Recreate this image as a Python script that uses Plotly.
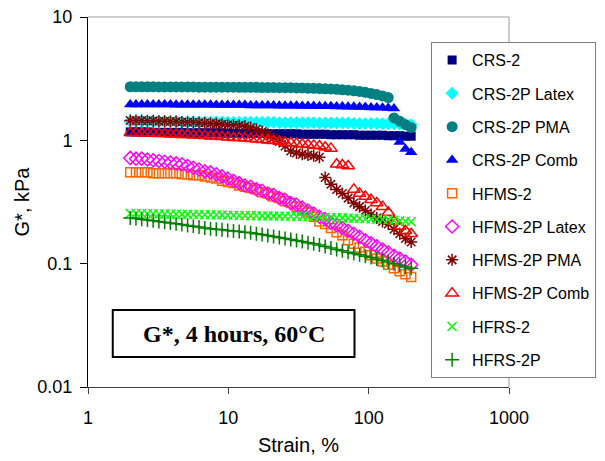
import plotly.graph_objects as go

strain = [2.000, 2.197, 2.414, 2.652, 2.914, 3.201, 3.517, 3.864, 4.245, 4.664,
          5.124, 5.629, 6.185, 6.795, 7.465, 8.201, 9.010, 9.899, 10.88, 11.95,
          13.13, 14.42, 15.84, 17.41, 19.12, 21.01, 23.08, 25.36, 27.86, 30.61,
          33.63, 36.95, 40.59, 44.59, 48.99, 53.83, 59.14, 64.97, 71.38, 78.42,
          86.15, 94.65, 104.0, 114.2, 125.5, 137.9, 151.5, 166.4, 182.9, 200.9]

crs2 = [1.17, 1.17, 1.17, 1.17, 1.16, 1.16, 1.16, 1.16, 1.16, 1.16,
        1.15, 1.15, 1.15, 1.15, 1.15, 1.15, 1.15, 1.14, 1.14, 1.14,
        1.14, 1.14, 1.14, 1.14, 1.13, 1.13, 1.13, 1.13, 1.13, 1.13,
        1.12, 1.12, 1.12, 1.12, 1.12, 1.11, 1.11, 1.11, 1.11, 1.11,
        1.10, 1.10, 1.10, 1.10, 1.10, 1.09, 1.09, 1.09, 1.08, 1.08]

crs2p_latex = [1.42, 1.42, 1.42, 1.42, 1.42, 1.42, 1.42, 1.42, 1.42, 1.41,
               1.41, 1.41, 1.41, 1.41, 1.41, 1.41, 1.41, 1.40, 1.40, 1.40,
               1.40, 1.40, 1.40, 1.40, 1.40, 1.40, 1.39, 1.39, 1.39, 1.39,
               1.39, 1.39, 1.39, 1.38, 1.38, 1.38, 1.38, 1.38, 1.38, 1.37,
               1.37, 1.37, 1.37, 1.37, 1.36, 1.36, 1.36, 1.35, 1.35, 1.34]

crs2p_pma = [2.72, 2.72, 2.72, 2.72, 2.72, 2.71, 2.71, 2.71, 2.71, 2.71,
             2.71, 2.71, 2.70, 2.70, 2.70, 2.70, 2.70, 2.70, 2.70, 2.69,
             2.69, 2.69, 2.69, 2.68, 2.68, 2.68, 2.67, 2.67, 2.67, 2.66,
             2.66, 2.65, 2.64, 2.63, 2.62, 2.61, 2.59, 2.57, 2.55, 2.52,
             2.49, 2.45, 2.40, 2.35, 2.29, 2.22, 1.52, 1.43, 1.34, 1.27]

crs2p_comb = [1.95, 1.95, 1.95, 1.95, 1.95, 1.95, 1.95, 1.95, 1.94, 1.94,
              1.94, 1.94, 1.94, 1.94, 1.94, 1.93, 1.93, 1.93, 1.93, 1.93,
              1.93, 1.92, 1.92, 1.92, 1.92, 1.92, 1.91, 1.91, 1.91, 1.91,
              1.90, 1.90, 1.90, 1.89, 1.89, 1.89, 1.88, 1.88, 1.87, 1.87,
              1.86, 1.86, 1.85, 1.85, 1.84, 1.83, 1.81, 0.97, 0.85, 0.80]

hfms2 = [0.55, 0.55, 0.55, 0.55, 0.54, 0.54, 0.54, 0.54, 0.54, 0.53,
         0.53, 0.52, 0.52, 0.51, 0.50, 0.49, 0.47, 0.46, 0.45, 0.43,
         0.42, 0.41, 0.40, 0.38, 0.37, 0.35, 0.34, 0.32, 0.31, 0.29,
         0.27, 0.26, 0.24, 0.22, 0.21, 0.195, 0.18, 0.17, 0.155, 0.145,
         0.135, 0.125, 0.117, 0.11, 0.104, 0.098, 0.092, 0.087, 0.082, 0.078]

hfms2p_latex = [0.72, 0.71, 0.71, 0.70, 0.69, 0.68, 0.67, 0.66, 0.65, 0.64,
                0.62, 0.60, 0.58, 0.56, 0.55, 0.53, 0.51, 0.49, 0.47, 0.45,
                0.43, 0.42, 0.40, 0.39, 0.37, 0.36, 0.34, 0.33, 0.31, 0.30,
                0.285, 0.27, 0.255, 0.24, 0.23, 0.215, 0.205, 0.195, 0.185, 0.175,
                0.165, 0.155, 0.146, 0.138, 0.13, 0.123, 0.116, 0.110, 0.104, 0.098]

hfms2p_pma = [1.45, 1.45, 1.45, 1.44, 1.44, 1.43, 1.43, 1.42, 1.42, 1.41,
              1.40, 1.40, 1.39, 1.38, 1.37, 1.36, 1.35, 1.34, 1.33, 1.32,
              1.30, 1.27, 1.23, 1.18, 1.12, 1.05, 0.98, 0.90, 0.82, 0.79,
              0.77, 0.76, 0.75, 0.73, 0.50, 0.44, 0.40, 0.37, 0.34, 0.31,
              0.29, 0.27, 0.25, 0.235, 0.22, 0.21, 0.19, 0.175, 0.16, 0.15]

hfms2p_comb = [1.15, 1.15, 1.14, 1.14, 1.14, 1.13, 1.13, 1.12, 1.12, 1.11,
               1.11, 1.10, 1.10, 1.09, 1.08, 1.08, 1.07, 1.06, 1.05, 1.05,
               1.04, 1.03, 1.02, 1.01, 1.00, 0.99, 0.98, 0.96, 0.95, 0.94,
               0.93, 0.92, 0.91, 0.90, 0.88, 0.86, 0.64, 0.63, 0.62, 0.40,
               0.37, 0.35, 0.33, 0.31, 0.29, 0.26, 0.22, 0.20, 0.185, 0.175]

hfrs2 = [0.255, 0.255, 0.255, 0.254, 0.254, 0.253, 0.253, 0.252, 0.252, 0.251,
         0.251, 0.250, 0.250, 0.249, 0.249, 0.248, 0.248, 0.247, 0.247, 0.246,
         0.246, 0.245, 0.245, 0.244, 0.244, 0.243, 0.243, 0.242, 0.242, 0.241,
         0.241, 0.240, 0.240, 0.239, 0.238, 0.237, 0.236, 0.235, 0.234, 0.233,
         0.232, 0.231, 0.230, 0.229, 0.228, 0.227, 0.225, 0.223, 0.221, 0.219]

hfrs2p = [0.235, 0.232, 0.229, 0.226, 0.223, 0.220, 0.217, 0.214, 0.211, 0.208,
          0.204, 0.201, 0.198, 0.195, 0.192, 0.190, 0.188, 0.186, 0.184, 0.182,
          0.180, 0.178, 0.175, 0.172, 0.169, 0.166, 0.163, 0.160, 0.157, 0.154,
          0.151, 0.148, 0.145, 0.142, 0.138, 0.134, 0.130, 0.127, 0.124, 0.121,
          0.118, 0.115, 0.112, 0.109, 0.106, 0.103, 0.100, 0.097, 0.094, 0.092]

series_names = ["CRS-2", "CRS-2P Latex", "CRS-2P PMA", "CRS-2P Comb", "HFMS-2",
                "HFMS-2P Latex", "HFMS-2P PMA", "HFMS-2P Comb", "HFRS-2", "HFRS-2P"]
series_values = [crs2, crs2p_latex, crs2p_pma, crs2p_comb, hfms2,
                 hfms2p_latex, hfms2p_pma, hfms2p_comb, hfrs2, hfrs2p]

x_tick_vals = [1, 10, 100, 1000]
x_tick_text = ["1", "10", "100", "1000"]
y_tick_vals = [0.01, 0.1, 1, 10]
y_tick_text = ["0.01", "0.1", "1", "10"]

styles = [
    dict(symbol="square", color="#000080", size=9, lw=0),
    dict(symbol="diamond", color="#00FFFF", size=10, lw=0),
    dict(symbol="circle", color="#008080", size=11, lw=0),
    dict(symbol="triangle-up", color="#0000FF", size=11, lw=0),
    dict(symbol="square-open", color="#FF6600", size=9, lw=1.5),
    dict(symbol="diamond-open", color="#FF00FF", size=10, lw=1.5),
    dict(symbol="asterisk-open", color="#800000", size=10, lw=1.5),
    dict(symbol="triangle-up-open", color="#FF0000", size=11, lw=1.5),
    dict(symbol="x-thin-open", color="#00FF00", size=9, lw=1.5),
    dict(symbol="cross-thin-open", color="#008000", size=10, lw=1.5),
]

fig = go.Figure()
for i, (name, vals, st) in enumerate(zip(series_names, series_values, styles)):
    fig.add_trace(go.Scatter(
        x=strain, y=vals, name=name, mode="markers", legendgroup=f"g{i}",
        marker=dict(symbol=st["symbol"], color=st["color"], size=st["size"],
                    line=dict(color=st["color"], width=st["lw"])),
    ))

font_sans = "Arial, Liberation Sans, sans-serif"

# The page body has an 8px default margin, so the figure is sized to fit
fig.update_layout(
    width=597, height=453,
    margin=dict(l=80, r=92, t=9, b=74),
    paper_bgcolor="white", plot_bgcolor="white",
    font=dict(family=font_sans, size=18, color="black"),
    showlegend=True,
    legend=dict(
        x=0.815, y=0.932, xanchor="left", yanchor="top",
        bgcolor="white", bordercolor="#808080", borderwidth=1,
        font=dict(family=font_sans, size=16, color="black"),
        tracegroupgap=9.5, itemwidth=30,
    ),
    xaxis=dict(
        type="log", range=[0, 3], tickvals=x_tick_vals, ticktext=x_tick_text,
        showgrid=False, zeroline=False, showline=True, linecolor="#404040",
        linewidth=1, ticks="outside", ticklen=6, tickcolor="#404040",
        automargin=False, ticklabelstandoff=8, ticklabeloverflow="allow",
        tickfont=dict(size=18), title=dict(text="Strain, %", font=dict(size=20), standoff=11),
    ),
    yaxis=dict(
        type="log", range=[-2, 1], tickvals=y_tick_vals, ticktext=y_tick_text,
        showgrid=False, zeroline=False, showline=True, linecolor="black",
        linewidth=1, ticks="outside", ticklen=7, tickcolor="black",
        automargin=False, ticklabelstandoff=4, ticklabeloverflow="allow",
        tickfont=dict(size=18), title=dict(text="G*, kPa", font=dict(size=20), standoff=2),
    ),
    shapes=[
        dict(type="line", xref="paper", yref="paper", x0=0, x1=1, y0=1, y1=1,
             line=dict(color="#999999", width=1), layer="below"),
        dict(type="line", xref="paper", yref="paper", x0=1, x1=1, y0=0, y1=1,
             line=dict(color="#999999", width=1), layer="below"),
        dict(type="rect", xref="paper", yref="paper", x0=0.0588, x1=0.633,
             y0=0.081, y1=0.208, line=dict(color="black", width=2),
             fillcolor="white", layer="above"),
    ],
    annotations=[
        dict(xref="paper", yref="paper", x=0.346, y=0.1445, showarrow=False,
             xanchor="center", yanchor="middle",
             text="<b>G*, 4 hours, 60°C</b>",
             font=dict(family="Times New Roman, Liberation Serif, serif", size=24, color="black")),
    ],
)

fig.write_html("out.html")
